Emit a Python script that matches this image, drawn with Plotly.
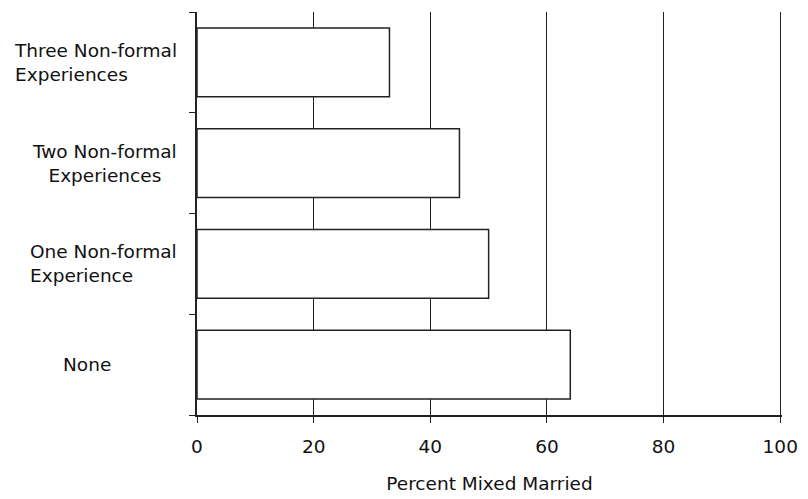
import plotly.graph_objects as go

categories = ["None", "One Non-formal Experience", "Two Non-formal Experiences", "Three Non-formal Experiences"]
labels = ["None", "One Non-formal<br>Experience", "Two Non-formal<br>Experiences", "Three Non-formal<br>Experiences"]
percent_mixed = [64, 50, 45, 33]
x_ticks = [0, 20, 40, 60, 80, 100]
x_title = "Percent Mixed Married"

FONT = "DejaVu Sans"
OFF = 8  # page body margin
W, H = 800, 491
L, R, T, B = 189, 26, 4, 84
FS = 18.5

ypos = list(range(len(categories)))

fig = go.Figure()
fig.add_trace(go.Bar(
    x=percent_mixed, y=ypos, orientation="h", width=0.68,
    marker=dict(color="white", line=dict(color="#222", width=1.5)),
    hoverinfo="skip", showlegend=False,
))

# label placement styles (page-pixel anchors / alignment)
label_style = [
    dict(px=87, xanchor="center", align="center"),
    dict(px=179, xanchor="right", align="left"),
    dict(px=179, xanchor="right", align="center"),
    dict(px=179, xanchor="right", align="left"),
]
plot_w = W - L - R
for yi, lab, st in zip(ypos, labels, label_style):
    fig.add_annotation(
        x=(st["px"] - OFF - L) / plot_w, xref="paper", y=yi, yref="y",
        text=lab, showarrow=False, xanchor=st["xanchor"], align=st["align"],
        yanchor="middle", font=dict(family=FONT, size=FS, color="#111"),
    )

fig.update_layout(
    width=W, height=H,
    margin=dict(l=L, r=R, t=T, b=B, autoexpand=False),
    paper_bgcolor="white", plot_bgcolor="white",
    font=dict(family=FONT, size=FS, color="#111"),
    xaxis=dict(
        range=[0, 100.3], tickvals=x_ticks, ticktext=[str(v) for v in x_ticks],
        showgrid=True, gridcolor="#222", gridwidth=1,
        showline=True, linecolor="#222", linewidth=1.5,
        ticks="outside", ticklen=6, tickcolor="#222",
        tickfont=dict(family=FONT, size=FS, color="#111"),
        ticklabelstandoff=8, zeroline=False, automargin=False,
        title=dict(text=x_title, font=dict(family=FONT, size=FS, color="#111"), standoff=21),
    ),
    yaxis=dict(
        range=[-0.5, 3.5], tickvals=[-0.5, 0.5, 1.5, 2.5, 3.5], showticklabels=False,
        showgrid=False, zeroline=False, automargin=False,
        showline=True, linecolor="#222", linewidth=1.5,
        ticks="outside", ticklen=6, tickcolor="#222",
    ),
)

fig.write_html("out.html")
